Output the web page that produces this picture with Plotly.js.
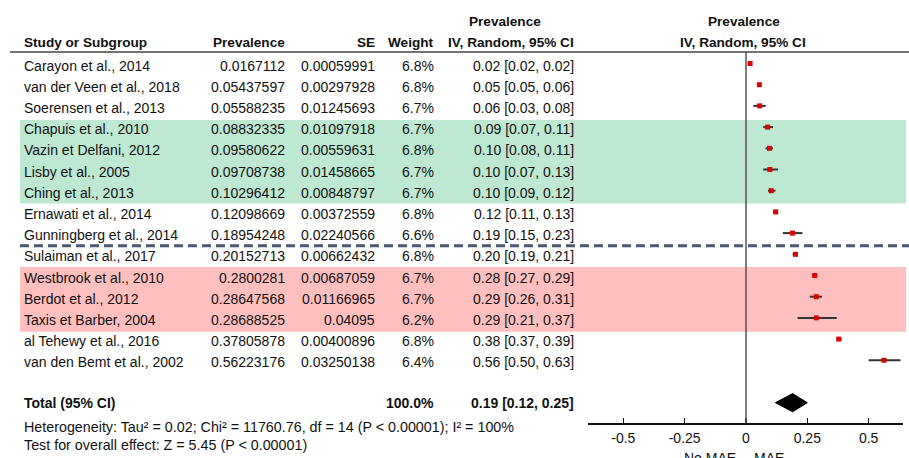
<!DOCTYPE html>
<html>
<head>
<meta charset="utf-8">
<script src="https://cdn.plot.ly/plotly-3.0.1.min.js"></script>
<style>
  html, body { margin: 0; padding: 0; background: #ffffff; }
  #chart { width: 909px; height: 458px; }
</style>
</head>
<body>
<div id="chart"></div>
<script>
// ---------------- data ----------------
const studies = [
  'Carayon et al., 2014', 'van der Veen et al., 2018', 'Soerensen et al., 2013',
  'Chapuis et al., 2010', 'Vazin et Delfani, 2012', 'Lisby et al., 2005',
  'Ching et al., 2013', 'Ernawati et al., 2014', 'Gunningberg et al., 2014',
  'Sulaiman et al., 2017', 'Westbrook et al., 2010', 'Berdot et al., 2012',
  'Taxis et Barber, 2004', 'al Tehewy et al., 2016', 'van den Bemt et al., 2002'
];
const prevalence = [
  '0.0167112', '0.05437597', '0.05588235', '0.08832335', '0.09580622',
  '0.09708738', '0.10296412', '0.12098669', '0.18954248', '0.20152713',
  '0.2800281', '0.28647568', '0.28688525', '0.37805878', '0.56223176'
];
const se = [
  '0.00059991', '0.00297928', '0.01245693', '0.01097918', '0.00559631',
  '0.01458665', '0.00848797', '0.00372559', '0.02240566', '0.00662432',
  '0.00687059', '0.01166965', '0.04095', '0.00400896', '0.03250138'
];
const weight = ['6.8%', '6.8%', '6.7%', '6.7%', '6.8%', '6.7%', '6.7%', '6.8%',
                '6.6%', '6.8%', '6.7%', '6.7%', '6.2%', '6.8%', '6.4%'];
const estimate = [0.02, 0.05, 0.06, 0.09, 0.10, 0.10, 0.10, 0.12, 0.19, 0.20, 0.28, 0.29, 0.29, 0.38, 0.56];
const ciLow    = [0.02, 0.05, 0.03, 0.07, 0.08, 0.07, 0.09, 0.11, 0.15, 0.19, 0.27, 0.26, 0.21, 0.37, 0.50];
const ciHigh   = [0.02, 0.06, 0.08, 0.11, 0.11, 0.13, 0.12, 0.13, 0.23, 0.21, 0.29, 0.31, 0.37, 0.39, 0.63];

const totalLabel = 'Total (95% CI)';
const totalWeight = '100.0%';
const totalEst = 0.19, totalLow = 0.12, totalHigh = 0.25;
const heterogeneity = 'Heterogeneity: Tau² = 0.02; Chi² = 11760.76, df = 14 (P < 0.00001); I² = 100%';
const overallTest = 'Test for overall effect: Z = 5.45 (P < 0.00001)';

const tickValues = [-0.5, -0.25, 0, 0.25, 0.5];
const tickLabels = ['-0.5', '-0.25', '0', '0.25', '0.5'];
const favoursLeft = 'No MAE', favoursRight = 'MAE';

const greenRows = [3, 6];   // Chapuis .. Ching
const redRows = [10, 12];   // Westbrook .. Taxis
const dashedAfterRow = 8;   // after Gunningberg

// ---------------- geometry helpers ----------------
const W = 909, H = 458;
const px = v => v / W;
const py = v => 1 - v / H;
const rowTop = 63.5, rowStep = 21.2;
const totalRow = 16;
const hetRow = 17.15, testRow = 18.0;

const FONT = '"Liberation Sans", Arial, sans-serif';
const FS = 14;
const TXT = '#111111';

const rows = studies.map((_, i) => i);
const ciText = (e, l, h) => e.toFixed(2) + ' [' + l.toFixed(2) + ', ' + h.toFixed(2) + ']';

// ---------------- traces ----------------
const ciX = [], ciY = [];
rows.forEach(i => { ciX.push(ciLow[i], ciHigh[i], null); ciY.push(i, i, null); });

const traces = [
  { type: 'scatter', mode: 'lines', x: ciX, y: ciY,
    line: { color: '#333333', width: 2 }, hoverinfo: 'skip', showlegend: false },
  { type: 'scatter', mode: 'markers', x: prevalence.map(Number), y: rows,
    marker: { symbol: 'square', size: 5, color: '#dd0000', line: { width: 0 } },
    hoverinfo: 'skip', showlegend: false },
  { type: 'scatter', mode: 'lines', fill: 'toself', fillcolor: '#000000',
    x: [totalLow, totalEst, totalHigh, totalEst, totalLow],
    y: [totalRow, totalRow - 0.43, totalRow, totalRow + 0.43, totalRow],
    line: { color: '#000000', width: 1 }, hoverinfo: 'skip', showlegend: false }
];

// ---------------- annotations ----------------
const ann = [];
function addText(text, x, y, xanchor, opts) {
  ann.push(Object.assign({
    text: text, x: x, y: y, xref: 'paper', yref: 'y', xanchor: xanchor, yanchor: 'middle',
    showarrow: false, font: { family: FONT, size: FS, color: TXT }, yshift: -2
  }, opts || {}));
}
rows.forEach(i => {
  addText(studies[i], px(22), i, 'left');
  addText(prevalence[i], px(287), i, 'right');
  addText(se[i], px(377), i, 'right');
  addText(weight[i], px(436), i, 'right');
  addText(ciText(estimate[i], ciLow[i], ciHigh[i]), px(576), i, 'right');
});
addText('<b>' + totalLabel + '</b>', px(22), totalRow, 'left', { yshift: 0 });
addText('<b>' + totalWeight + '</b>', px(436), totalRow, 'right', { yshift: 0 });
addText('<b>' + ciText(totalEst, totalLow, totalHigh) + '</b>', px(576), totalRow, 'right', { yshift: 0 });
addText(heterogeneity, px(22), hetRow, 'left', { yshift: 0, font: { family: FONT, size: 14.3, color: TXT } });
addText(overallTest, px(22), testRow, 'left', { yshift: 0, font: { family: FONT, size: 14.3, color: TXT } });

function addHeader(text, x, yPix, xanchor) {
  ann.push({ text: '<b>' + text + '</b>', x: px(x), y: py(yPix), xref: 'paper', yref: 'paper',
    xanchor: xanchor, yanchor: 'middle', showarrow: false,
    font: { family: FONT, size: 13.6, color: TXT } });
}
addHeader('Study or Subgroup', 22, 42.5, 'left');
addHeader('Prevalence', 287, 42.5, 'right');
addHeader('SE', 377, 42.5, 'right');
addHeader('Weight', 436, 42.5, 'right');
addHeader('IV, Random, 95% CI', 576, 42.5, 'right');
addHeader('Prevalence', 505, 21.5, 'center');
addHeader('Prevalence', 744, 21.5, 'center');
addHeader('IV, Random, 95% CI', 743, 42.5, 'center');

ann.push({ text: favoursLeft, x: px(738), y: py(448), xref: 'paper', yref: 'paper',
  xanchor: 'right', yanchor: 'top', showarrow: false, font: { family: FONT, size: FS, color: TXT } });
ann.push({ text: favoursRight, x: px(752), y: py(448), xref: 'paper', yref: 'paper',
  xanchor: 'left', yanchor: 'top', showarrow: false, font: { family: FONT, size: FS, color: TXT } });

// ---------------- shapes ----------------
const shapes = [
  { type: 'rect', xref: 'paper', yref: 'y', x0: px(20), x1: px(906),
    y0: greenRows[0] - 0.33, y1: greenRows[1] + 0.6, fillcolor: '#bde8d1', line: { width: 0 }, layer: 'below' },
  { type: 'rect', xref: 'paper', yref: 'y', x0: px(20), x1: px(906),
    y0: redRows[0] - 0.4, y1: redRows[1] + 0.65, fillcolor: '#ffbfbf', line: { width: 0 }, layer: 'below' },
  { type: 'line', xref: 'paper', yref: 'y', x0: px(20), x1: 1,
    y0: dashedAfterRow + 0.6, y1: dashedAfterRow + 0.6,
    line: { color: '#4a5870', width: 3, dash: '9px,5px' } },
  { type: 'line', xref: 'paper', yref: 'paper', x0: px(10), x1: 1, y0: py(52), y1: py(52),
    line: { color: '#444444', width: 1.5 } },
  { type: 'line', xref: 'x', yref: 'paper', x0: 0, x1: 0, y0: py(423.3), y1: py(52),
    line: { color: '#555555', width: 1.5 } }
];

// ---------------- layout ----------------
const layout = {
  width: W, height: H,
  margin: { l: 0, r: 0, t: 0, b: 0, pad: 0 },
  paper_bgcolor: '#ffffff', plot_bgcolor: 'rgba(0,0,0,0)',
  showlegend: false,
  font: { family: FONT, size: FS, color: TXT },
  xaxis: {
    domain: [px(588), px(903)], range: [-0.644, 0.64],
    anchor: 'free', position: py(423.3),
    showgrid: false, zeroline: false, showline: true, linecolor: '#111111', linewidth: 1.3,
    ticks: 'inside', ticklen: 5, tickwidth: 1.3, tickcolor: '#111111',
    tickmode: 'array', tickvals: tickValues, ticktext: tickLabels,
    tickfont: { family: FONT, size: FS, color: TXT }, ticklabelstandoff: 2,
    fixedrange: true
  },
  yaxis: {
    domain: [0, 1], range: [(H - rowTop) / rowStep, -rowTop / rowStep],
    visible: false, showgrid: false, zeroline: false, fixedrange: true
  },
  shapes: shapes,
  annotations: ann
};

Plotly.newPlot('chart', traces, layout, { displayModeBar: false, staticPlot: true });
</script>
</body>
</html>
